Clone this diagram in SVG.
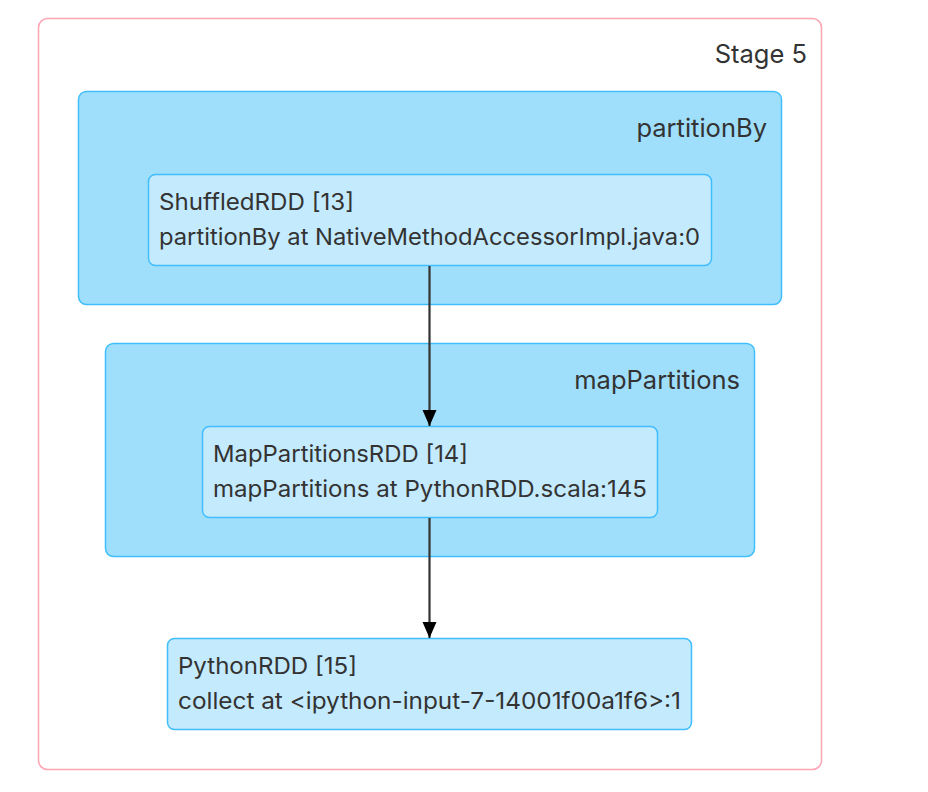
<svg xmlns="http://www.w3.org/2000/svg" width="928" height="792" viewBox="0 0 928 792">
<defs>
<style>
.stage{fill:#ffffff;stroke:#ffa4b4;stroke-width:1.5}
.cluster{fill:#a0dffc;stroke:#40befc;stroke-width:1.5}
.node{fill:#c4eafd;stroke:#40befc;stroke-width:1.5}
.t{font-family:Inter,"Noto Sans","Liberation Sans",sans-serif;fill:#333333}
.lbl{font-size:25.5px;text-anchor:end}
.nt{font-size:23px}
.edge{stroke:#333333;stroke-width:2.2;fill:none}
</style>
<marker id="arr" viewBox="0 0 16 16" refX="16" refY="8" markerWidth="16" markerHeight="16" markerUnits="userSpaceOnUse" orient="auto">
<path d="M0,1 L16,8 L0,15 Z" fill="#000000"/>
</marker>
</defs>
<g id="stage5">
<rect class="stage" x="38.5" y="18.5" width="783" height="751" rx="9"/>
<text class="t lbl" x="807" y="62.5">Stage 5</text>
</g>
<g id="cluster-partitionBy">
<rect class="cluster" x="78.5" y="91.5" width="703" height="213" rx="8"/>
<text class="t lbl" x="767" y="137">partitionBy</text>
</g>
<g id="cluster-mapPartitions">
<rect class="cluster" x="105.5" y="343.5" width="649" height="213" rx="8"/>
<text class="t lbl" x="740" y="389">mapPartitions</text>
</g>
<g id="node13">
<rect class="node" x="148.5" y="174.5" width="563" height="91" rx="7"/>
<text class="t nt" x="159" y="210" textLength="195" lengthAdjust="spacingAndGlyphs">ShuffledRDD [13]</text>
<text class="t nt" x="159" y="245" textLength="541" lengthAdjust="spacingAndGlyphs">partitionBy at NativeMethodAccessorImpl.java:0</text>
</g>
<g id="node14">
<rect class="node" x="202.5" y="426.5" width="455" height="91" rx="7"/>
<text class="t nt" x="213" y="462" textLength="255" lengthAdjust="spacingAndGlyphs">MapPartitionsRDD [14]</text>
<text class="t nt" x="213" y="497" textLength="434" lengthAdjust="spacingAndGlyphs">mapPartitions at PythonRDD.scala:145</text>
</g>
<g id="node15">
<rect class="node" x="167.5" y="638.5" width="524" height="91" rx="7"/>
<text class="t nt" x="178" y="674" textLength="179" lengthAdjust="spacingAndGlyphs">PythonRDD [15]</text>
<text class="t nt" x="178" y="709" textLength="503" lengthAdjust="spacingAndGlyphs">collect at &lt;ipython-input-7-14001f00a1f6&gt;:1</text>
</g>
<g id="edges">
<path class="edge" d="M429.5,266 L429.5,426" marker-end="url(#arr)"/>
<path class="edge" d="M429.5,518 L429.5,638" marker-end="url(#arr)"/>
</g>
</svg>
